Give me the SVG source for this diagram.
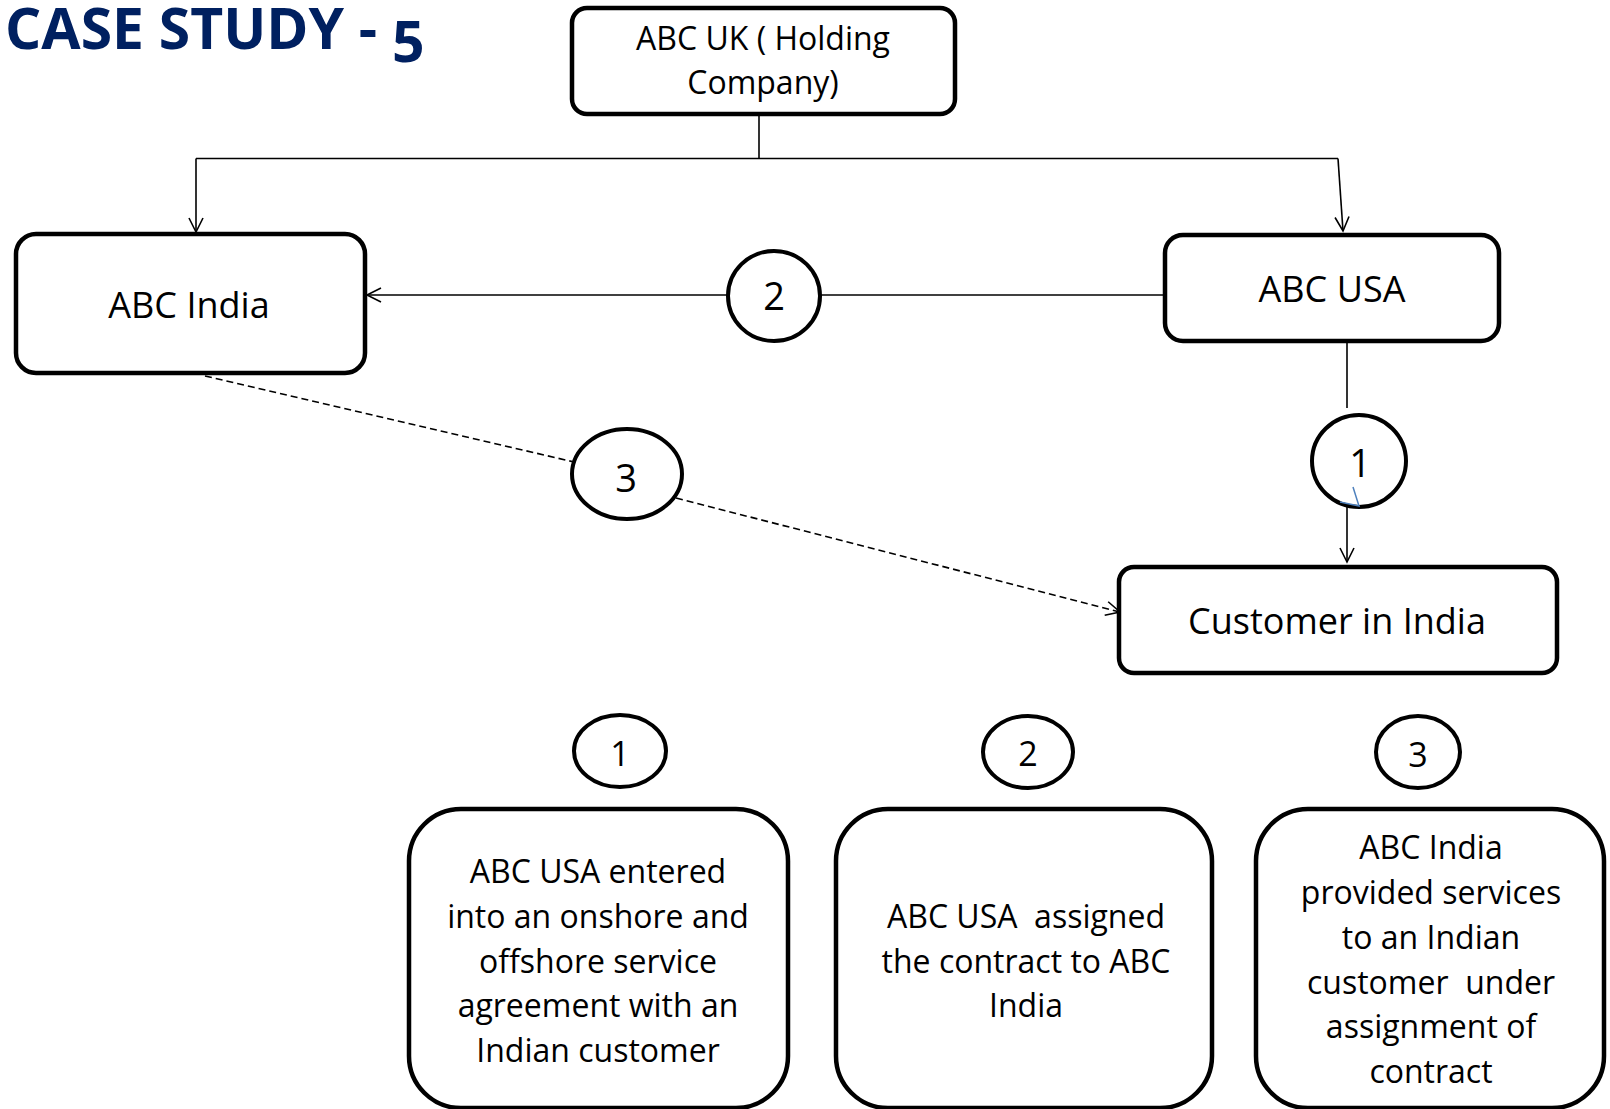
<svg xmlns="http://www.w3.org/2000/svg" width="1610" height="1109" viewBox="0 0 1610 1109">
  <defs>
    <marker id="open-arrow" markerUnits="userSpaceOnUse" markerWidth="18" markerHeight="18" viewBox="0 0 18 18" refX="16" refY="9" orient="auto">
      <path d="M2,2 L16,9 L2,16" fill="none" stroke="#000" stroke-width="1.6"/>
    </marker>
  </defs>
  <style>
    .box { fill: #fff; stroke: #000; stroke-width: 4.5; }
    .badge { fill: #fff; stroke: #000; stroke-width: 4; }
    .wire { fill: none; stroke: #000; stroke-width: 1.6; }
    .dash { fill: none; stroke: #000; stroke-width: 1.6; stroke-dasharray: 7 4; }
    .lbl { font-family: "Open Sans", "Liberation Sans", sans-serif; fill: #000; text-anchor: middle; }
    .title { font-family: "Open Sans", "Liberation Sans", sans-serif; font-weight: bold; fill: #002060; }
  </style>
  <rect width="1610" height="1109" fill="#fff"/>

  <text class="title" x="5" y="49" font-size="57">CASE STUDY - <tspan dy="13">5</tspan></text>

  <!-- connectors -->
  <g id="connectors">
    <path class="wire" d="M759,115 L759,158.5"/>
    <path class="wire" d="M196,158.5 L1338,158.5"/>
    <path class="wire" d="M196,158.5 L196,232" marker-end="url(#open-arrow)"/>
    <path class="wire" d="M1338,158.5 L1343,231" marker-end="url(#open-arrow)"/>
    <path class="wire" d="M1164,295 L367,295" marker-end="url(#open-arrow)"/>
    <path class="wire" d="M1347,341 L1347,408"/>
    <path class="wire" d="M1347,506 L1347,562" marker-end="url(#open-arrow)"/>
    <path class="dash" d="M205,376 L574,462"/>
    <path class="dash" d="M676,498 L1120,612" marker-end="url(#open-arrow)"/>
  </g>

  <!-- entities -->
  <g id="abc-uk">
    <rect class="box" x="572" y="8" width="383" height="106" rx="15"/>
    <text class="lbl" x="763" y="50" font-size="32">ABC UK ( Holding</text>
    <text class="lbl" x="763" y="94" font-size="32">Company)</text>
  </g>
  <g id="abc-india">
    <rect class="box" x="16" y="234" width="349" height="139" rx="20"/>
    <text class="lbl" x="189" y="318" font-size="36">ABC India</text>
  </g>
  <g id="abc-usa">
    <rect class="box" x="1165" y="235" width="334" height="106" rx="18"/>
    <text class="lbl" x="1332" y="302" font-size="36">ABC USA</text>
  </g>
  <g id="customer-india">
    <rect class="box" x="1119" y="567" width="438" height="106" rx="15"/>
    <text class="lbl" x="1337" y="634" font-size="36">Customer in India</text>
  </g>

  <!-- step badges on the flow -->
  <g id="step-2">
    <ellipse class="badge" cx="774" cy="296" rx="46" ry="45"/>
    <text class="lbl" x="774" y="310" font-size="38">2</text>
  </g>
  <g id="step-1">
    <ellipse class="badge" cx="1359" cy="461" rx="47" ry="46"/>
    <text class="lbl" x="1360" y="477" font-size="38">1</text>
    <path d="M1353,487 L1359,506 L1340,502" fill="none" stroke="#4f81bd" stroke-width="1.5"/>
  </g>
  <g id="step-3">
    <ellipse class="badge" cx="627" cy="474" rx="55" ry="45"/>
    <text class="lbl" x="626" y="492" font-size="38">3</text>
  </g>

  <!-- legend -->
  <g id="legend-1">
    <ellipse class="badge" cx="620" cy="751" rx="46" ry="36"/>
    <text class="lbl" x="620" y="766" font-size="34">1</text>
    <rect class="box" x="409" y="809" width="379" height="299" rx="52"/>
    <text class="lbl" x="598" y="883" font-size="32">ABC USA entered</text>
    <text class="lbl" x="598" y="928" font-size="32">into an onshore and</text>
    <text class="lbl" x="598" y="973" font-size="32">offshore service</text>
    <text class="lbl" x="598" y="1017" font-size="32">agreement with an</text>
    <text class="lbl" x="598" y="1062" font-size="32">Indian customer</text>
  </g>
  <g id="legend-2">
    <ellipse class="badge" cx="1028" cy="752" rx="45" ry="36"/>
    <text class="lbl" x="1028" y="766" font-size="34">2</text>
    <rect class="box" x="836" y="809" width="376" height="299" rx="52"/>
    <text class="lbl" x="1026" y="928" font-size="32" xml:space="preserve">ABC USA  assigned</text>
    <text class="lbl" x="1026" y="973" font-size="32">the contract to ABC</text>
    <text class="lbl" x="1026" y="1017" font-size="32">India</text>
  </g>
  <g id="legend-3">
    <ellipse class="badge" cx="1418" cy="752" rx="42" ry="36"/>
    <text class="lbl" x="1418" y="767" font-size="34">3</text>
    <rect class="box" x="1256" y="809" width="348" height="299" rx="52"/>
    <text class="lbl" x="1431" y="859" font-size="32">ABC India</text>
    <text class="lbl" x="1431" y="904" font-size="32">provided services</text>
    <text class="lbl" x="1431" y="949" font-size="32">to an Indian</text>
    <text class="lbl" x="1431" y="994" font-size="32" xml:space="preserve">customer  under</text>
    <text class="lbl" x="1431" y="1038" font-size="32">assignment of</text>
    <text class="lbl" x="1431" y="1083" font-size="32">contract</text>
  </g>
</svg>
